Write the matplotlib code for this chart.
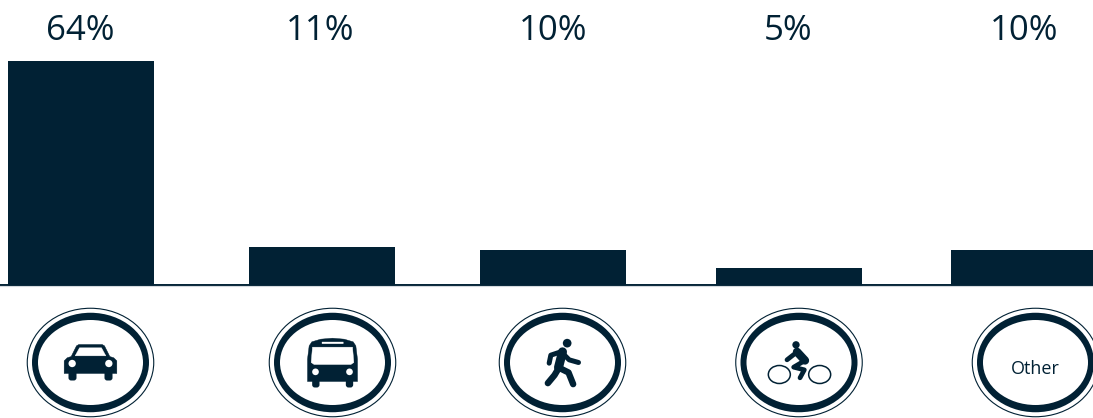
import matplotlib
matplotlib.use("Agg")
from matplotlib import pyplot as plt
from matplotlib.patches import Ellipse, Polygon, FancyBboxPatch, Circle

modes = ["Car", "Bus", "Walk", "Bike", "Other"]
shares = [64, 11, 10, 5, 10]
share_labels = ["64%", "11%", "10%", "5%", "10%"]

bar_x = [81, 322, 553, 789, 1024]
label_x = [80.5, 320, 553, 788, 1024]
icon_x = [90.5, 332.5, 562.5, 799, 1035.5]

W, H = 1093, 418
NAVY = "#012134"
BASE_Y = 285.5
PX_PER_PCT = 3.51
ICON_Y = 362.5
U = 1 / 3  # icon shapes below are sketched at 3x, this brings them to pixels

plt.rcParams["font.family"] = ["Open Sans", "DejaVu Sans"]

fig = plt.figure(figsize=(W / 100, H / 100), dpi=100)

# bars, y axis in percent
ax = fig.add_axes([0, 1 - BASE_Y / H, 1, BASE_Y / H])
ax.set_xlim(0, W)
ax.set_ylim(0, BASE_Y / PX_PER_PCT)
ax.axis("off")
ax.bar(bar_x, shares, width=146, color=NAVY, linewidth=0)
ax.axhline(0.2, color=NAVY, linewidth=1.4)
for x, s in zip(label_x, share_labels):
    ax.text(x, (BASE_Y - 39.5) / PX_PER_PCT, s, ha="center", va="baseline",
            fontsize=25, color=NAVY)

# icon row, pixel coordinates with y going down
ic = fig.add_axes([0, 0, 1, 1])
ic.set_xlim(0, W)
ic.set_ylim(H, 0)
ic.axis("off")
ic.patch.set_alpha(0)
ic.axhline(BASE_Y + 0.8, color="#d5dade", linewidth=0.8, zorder=0)


def sign(cx):
    ic.add_patch(Ellipse((cx, ICON_Y), 126.5, 108.5, fill=False, ec=NAVY, lw=0.8))
    ic.add_patch(Ellipse((cx, ICON_Y), 117, 99.5, fc=NAVY, ec="none"))
    ic.add_patch(Ellipse((cx, ICON_Y), 105, 85, fc="white", ec="none"))


def poly(cx, pts, color=NAVY):
    ic.add_patch(Polygon([(cx + a * U, ICON_Y + b * U) for a, b in pts],
                         closed=True, fc=color, ec=color, lw=0.3, joinstyle="round"))


def rrect(cx, x0, y0, w, h, r=6, color=NAVY):
    ic.add_patch(FancyBboxPatch((cx + x0 * U, ICON_Y + y0 * U), w * U, h * U,
                                boxstyle="round,pad=0,rounding_size=%g" % (r * U),
                                fc=color, ec="none"))


def dot(cx, a, b, r, color=NAVY):
    ic.add_patch(Circle((cx + a * U, ICON_Y + b * U), r * U, fc=color, ec="none"))


def limb(cx, pts, lw=3.0):
    ic.plot([cx + a * U for a, b in pts], [ICON_Y + b * U for a, b in pts],
            color=NAVY, lw=lw, solid_capstyle="round", solid_joinstyle="round")


def car(cx):
    poly(cx, [(-79, -5), (-70, -14), (-58, -18), (-42, -50), (-35, -54), (35, -54),
              (42, -50), (58, -18), (70, -14), (79, -5), (79, 33), (-79, 33)])
    poly(cx, [(-33, -44), (33, -44), (46, -20), (-46, -20)], "white")
    dot(cx, -55, 3, 11, "white")
    dot(cx, 55, 3, 11, "white")
    rrect(cx, -66, 25, 24, 29, 8)
    rrect(cx, 42, 25, 24, 29, 8)


def bus(cx):
    poly(cx, [(-75, 57), (-75, -10), (-70, -50), (-62, -62), (-35, -70), (0, -73),
              (35, -70), (62, -62), (70, -50), (75, -10), (75, 57)])
    poly(cx, [(-60, -46), (60, -46), (64, 0), (55, 6), (-55, 6), (-64, 0)], "white")
    rrect(cx, -32, -62, 65, 6, 1, "white")
    dot(cx, -51, 28, 10, "white")
    dot(cx, 51, 28, 10, "white")
    rrect(cx, -61, 50, 22, 25, 8)
    rrect(cx, 40, 50, 22, 25, 8)


def walker(cx):
    dot(cx, 14, -58, 13)
    limb(cx, [(0, -32), (-12, 15)], 6.5)
    limb(cx, [(-2, -33), (-35, -22), (-40, 2)], 3.6)
    limb(cx, [(0, -28), (20, -8), (48, 0)], 3.6)
    limb(cx, [(-12, 15), (18, 30), (32, 65)], 4.6)
    limb(cx, [(-12, 18), (-24, 38), (-44, 62)], 4.6)


def cyclist(cx):
    for a in (-59, 62):
        ic.add_patch(Ellipse((cx + a * U, ICON_Y + 36 * U), 66 * U, 54 * U,
                             fill=False, ec=NAVY, lw=1.1))
    dot(cx, -9, -53, 11)
    limb(cx, [(-6, -32), (18, -6)], 6.0)
    limb(cx, [(-8, -30), (-36, -8)], 3.4)
    limb(cx, [(18, -6), (-16, 14), (16, 22), (3, 46)], 3.4)


for x, draw in zip(icon_x, [car, bus, walker, cyclist, None]):
    sign(x)
    if draw is not None:
        draw(x)
ic.text(icon_x[-1], 369, modes[-1], ha="center", va="center", fontsize=13, color=NAVY)

fig.savefig("out.png", dpi=100)
